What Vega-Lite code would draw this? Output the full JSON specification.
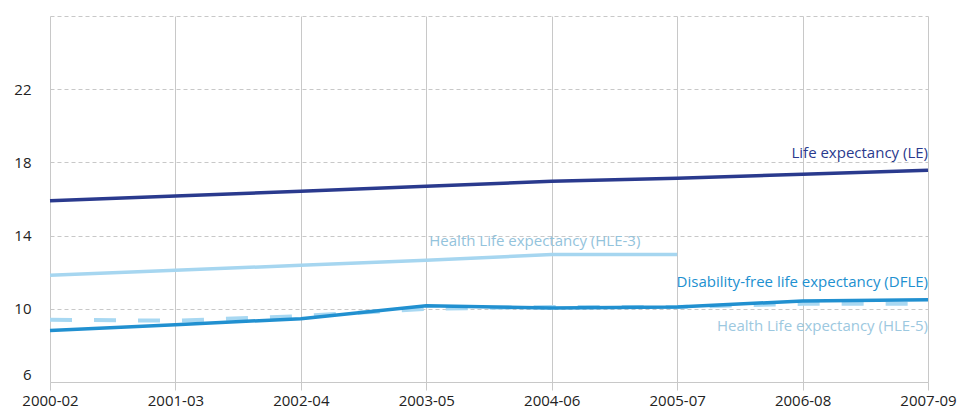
{
  "$schema": "https://vega.github.io/schema/vega-lite/v6.json",
  "width": 878,
  "height": 366,
  "autosize": {"type": "none"},
  "padding": {"left": 50, "top": 16, "right": 31, "bottom": 26},
  "background": "white",
  "config": {
    "view": {"stroke": null},
    "font": "Open Sans",
    "axis": {"labelFont": "Open Sans", "labelColor": "#222222"}
  },
  "datasets": {
    "series": [
      {"period": "2000-02", "series": "LE", "value": 15.9},
      {"period": "2001-03", "series": "LE", "value": 16.16},
      {"period": "2002-04", "series": "LE", "value": 16.43},
      {"period": "2003-05", "series": "LE", "value": 16.7},
      {"period": "2004-06", "series": "LE", "value": 16.97},
      {"period": "2005-07", "series": "LE", "value": 17.14},
      {"period": "2006-08", "series": "LE", "value": 17.35},
      {"period": "2007-09", "series": "LE", "value": 17.57},
      {"period": "2000-02", "series": "HLE-3", "value": 11.84},
      {"period": "2001-03", "series": "HLE-3", "value": 12.1},
      {"period": "2002-04", "series": "HLE-3", "value": 12.38},
      {"period": "2003-05", "series": "HLE-3", "value": 12.65},
      {"period": "2004-06", "series": "HLE-3", "value": 12.97},
      {"period": "2005-07", "series": "HLE-3", "value": 12.97},
      {"period": "2000-02", "series": "DFLE", "value": 8.81},
      {"period": "2001-03", "series": "DFLE", "value": 9.13},
      {"period": "2002-04", "series": "DFLE", "value": 9.46},
      {"period": "2003-05", "series": "DFLE", "value": 10.16},
      {"period": "2004-06", "series": "DFLE", "value": 10.05},
      {"period": "2005-07", "series": "DFLE", "value": 10.1},
      {"period": "2006-08", "series": "DFLE", "value": 10.43},
      {"period": "2007-09", "series": "DFLE", "value": 10.49},
      {"period": "2000-02", "series": "HLE-5", "value": 9.4},
      {"period": "2001-03", "series": "HLE-5", "value": 9.35},
      {"period": "2002-04", "series": "HLE-5", "value": 9.6},
      {"period": "2003-05", "series": "HLE-5", "value": 10.0},
      {"period": "2004-06", "series": "HLE-5", "value": 10.1},
      {"period": "2005-07", "series": "HLE-5", "value": 10.1},
      {"period": "2006-08", "series": "HLE-5", "value": 10.27},
      {"period": "2007-09", "series": "HLE-5", "value": 10.27}
    ],
    "labels": [
      {"period": "2007-09", "series": "LE", "value": 18.49, "text": "Life expectancy (LE)"},
      {"period": "2003-05", "series": "HLE-3", "value": 13.73, "text": "Health Life expectancy (HLE-3)"},
      {"period": "2007-09", "series": "DFLE", "value": 11.46, "text": "Disability-free life expectancy (DFLE)"},
      {"period": "2007-09", "series": "HLE-5", "value": 9.08, "text": "Health Life expectancy (HLE-5)"}
    ]
  },
  "encoding": {
    "x": {
      "field": "period",
      "type": "ordinal",
      "scale": {"type": "point", "padding": 0},
      "axis": {
        "title": null,
        "labelAngle": 0,
        "labelAlign": "center",
        "labelFlush": false,
        "labelBound": false,
        "labelFontSize": 15,
        "labelPadding": 3,
        "tickSize": 8,
        "tickColor": "#c8c8c8",
        "domainColor": "#c8c8c8",
        "grid": true,
        "gridColor": "#c8c8c8",
        "gridWidth": 1
      }
    },
    "y": {
      "field": "value",
      "type": "quantitative",
      "scale": {"domain": [6, 26], "nice": false, "zero": false},
      "axis": {
        "title": null,
        "values": [6, 10, 14, 18, 22, 26],
        "labelExpr": "datum.value == 26 ? '' : datum.label",
        "labelFlush": true,
        "labelFontSize": 15,
        "labelPadding": 19,
        "ticks": false,
        "domain": false,
        "grid": true,
        "gridDash": [4, 3],
        "gridColor": "#c8c8c8",
        "gridWidth": 1
      }
    }
  },
  "layer": [
    {
      "data": {"name": "series"},
      "transform": [{"filter": "datum.series == 'HLE-5'"}],
      "mark": {"type": "line", "color": "#a8d8f2", "strokeWidth": 4, "strokeDash": [22, 22]}
    },
    {
      "data": {"name": "series"},
      "transform": [{"filter": "datum.series == 'HLE-3'"}],
      "mark": {"type": "line", "color": "#a6d6f0", "strokeWidth": 3.5}
    },
    {
      "data": {"name": "series"},
      "transform": [{"filter": "datum.series == 'DFLE'"}],
      "mark": {"type": "line", "color": "#2190d0", "strokeWidth": 3.5}
    },
    {
      "data": {"name": "series"},
      "transform": [{"filter": "datum.series == 'LE'"}],
      "mark": {"type": "line", "color": "#2a3a8e", "strokeWidth": 3.5}
    },
    {
      "data": {"name": "labels"},
      "transform": [{"filter": "datum.series == 'LE'"}],
      "mark": {"type": "text", "align": "right", "baseline": "middle", "fontSize": 15, "color": "#2a3a8e"},
      "encoding": {"text": {"field": "text"}}
    },
    {
      "data": {"name": "labels"},
      "transform": [{"filter": "datum.series == 'HLE-3'"}],
      "mark": {"type": "text", "align": "left", "baseline": "middle", "dx": 3, "fontSize": 15, "color": "#93c3dc"},
      "encoding": {"text": {"field": "text"}}
    },
    {
      "data": {"name": "labels"},
      "transform": [{"filter": "datum.series == 'DFLE'"}],
      "mark": {"type": "text", "align": "right", "baseline": "middle", "fontSize": 15, "color": "#2190d0"},
      "encoding": {"text": {"field": "text"}}
    },
    {
      "data": {"name": "labels"},
      "transform": [{"filter": "datum.series == 'HLE-5'"}],
      "mark": {"type": "text", "align": "right", "baseline": "middle", "fontSize": 15, "color": "#9cc8e0"},
      "encoding": {"text": {"field": "text"}}
    }
  ]
}
